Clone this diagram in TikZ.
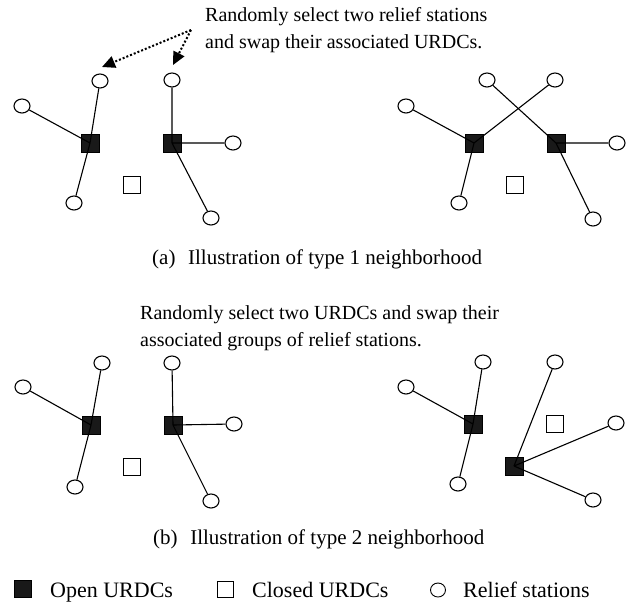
\documentclass[tikz,border=0pt]{standalone}
\usepackage{fontspec}
\setmainfont{Liberation Serif}
\usetikzlibrary{arrows.meta,shapes.geometric}
\tikzset{
  rs/.style={draw, ellipse, line width=1.1pt, minimum width=16pt, minimum height=14pt, inner sep=0pt},
  openu/.style={draw=black, fill=black!90, rectangle, minimum size=18pt, inner sep=0pt},
  closedu/.style={draw, rectangle, line width=1.1pt, minimum size=17pt, inner sep=0pt},
  lnk/.style={line width=1.1pt},
  dotarrow/.style={line width=2pt, dotted, -{Triangle[length=13pt,width=12pt]}},
  txt/.style={anchor=base west, inner sep=0pt, font=\fontsize{20}{24}\selectfont},
  captxt/.style={anchor=base west, inner sep=0pt, font=\fontsize{21}{24}\selectfont},
  legtxt/.style={anchor=base west, inner sep=0pt, font=\fontsize{22}{24}\selectfont},
}
\begin{document}
\begin{tikzpicture}[x=1pt,y=-1pt]
\useasboundingbox (0,0) rectangle (628,603);
% ---------- (a) left
\node[rs] (a1) at (100,81) {};
\node[rs] (a2) at (22,106) {};
\node[openu] (A1) at (90,143) {};
\node[rs] (a3) at (74,203) {};
\node[closedu] (Ac) at (132,185) {};
\node[openu] (A2) at (172,143) {};
\node[rs] (a4) at (172,80) {};
\node[rs] (a5) at (233,143) {};
\node[rs] (a6) at (211,218) {};
\draw[lnk] (a1) -- (A1.center) (a2) -- (A1.center) (a3) -- (A1.center);
\draw[lnk] (a4) -- (A2.center) (a5) -- (A2.center) (a6) -- (A2.center);
% ---------- (a) right
\node[rs] (b2) at (406,106) {};
\node[openu] (B1) at (474,143) {};
\node[rs] (b1) at (487,80) {};
\node[rs] (b3) at (459,203) {};
\node[closedu] (Bc) at (515,185) {};
\node[openu] (B2) at (556,143) {};
\node[rs] (b4) at (555,80) {};
\node[rs] (b5) at (617,143) {};
\node[rs] (b6) at (593,219) {};
\draw[lnk] (b2) -- (B1.center) (b4) -- (B1.center) (b3) -- (B1.center);
\draw[lnk] (b1) -- (B2.center) (b5) -- (B2.center) (b6) -- (B2.center);
% text + arrows
\node[txt] (t1) at (205,21) {Randomly select two relief stations};
\node[txt] (t2) at (205,48) {and swap their associated URDCs.};
\coordinate (as) at (191,30);
\coordinate (tip1) at (102,67);
\coordinate (tip2) at (173,65);
\draw[dotarrow] (as) -- (tip1);
\draw[dotarrow] (as) -- (tip2);
\node[captxt] (capa) at (152,264) {(a)\hspace{0.6em}Illustration of type 1 neighborhood};
% ---------- (b) left
\node[rs] (c1) at (102,363) {};
\node[rs] (c2) at (23,387) {};
\node[openu] (C1) at (91,425) {};
\node[rs] (c3) at (75,487) {};
\node[closedu] (Cc) at (132,467) {};
\node[openu] (C2) at (173,425) {};
\node[rs] (c4) at (172,363) {};
\node[rs] (c5) at (234,424) {};
\node[rs] (c6) at (211,501) {};
\draw[lnk] (c1) -- (C1.center) (c2) -- (C1.center) (c3) -- (C1.center);
\draw[lnk] (c4) -- (C2.center) (c5) -- (C2.center) (c6) -- (C2.center);
% ---------- (b) right
\node[rs] (d2) at (406,387) {};
\node[openu] (D1) at (473,424) {};
\node[rs] (d1) at (483,362) {};
\node[rs] (d3) at (458,484) {};
\node[rs] (d4) at (555,362) {};
\node[closedu] (Dc) at (555,424) {};
\node[openu] (D2) at (514,466) {};
\node[rs] (d5) at (616,423) {};
\node[rs] (d6) at (593,500) {};
\draw[lnk] (d1) -- (D1.center) (d2) -- (D1.center) (d3) -- (D1.center);
\draw[lnk] (d4) -- (D2.center) (d5) -- (D2.center) (d6) -- (D2.center);
\node[txt] (u1) at (140,319) {Randomly select two URDCs and swap their};
\node[txt] (u2) at (140,346) {associated groups of relief stations.};
\node[captxt] (capb) at (153,544) {(b)\hspace{0.6em}Illustration of type 2 neighborhood};
% ---------- legend
\node[openu, minimum size=17pt] (L1) at (23,589) {};
\node[legtxt] (L1t) at (50,597) {Open URDCs};
\node[closedu, minimum size=16pt, line width=0.9pt] (L2) at (225,589) {};
\node[legtxt] (L2t) at (252,597) {Closed URDCs};
\node[rs, line width=0.9pt, minimum width=15pt, minimum height=14pt] (L3) at (438,590) {};
\node[legtxt] (L3t) at (463,597) {Relief stations};
\end{tikzpicture}
\end{document}
